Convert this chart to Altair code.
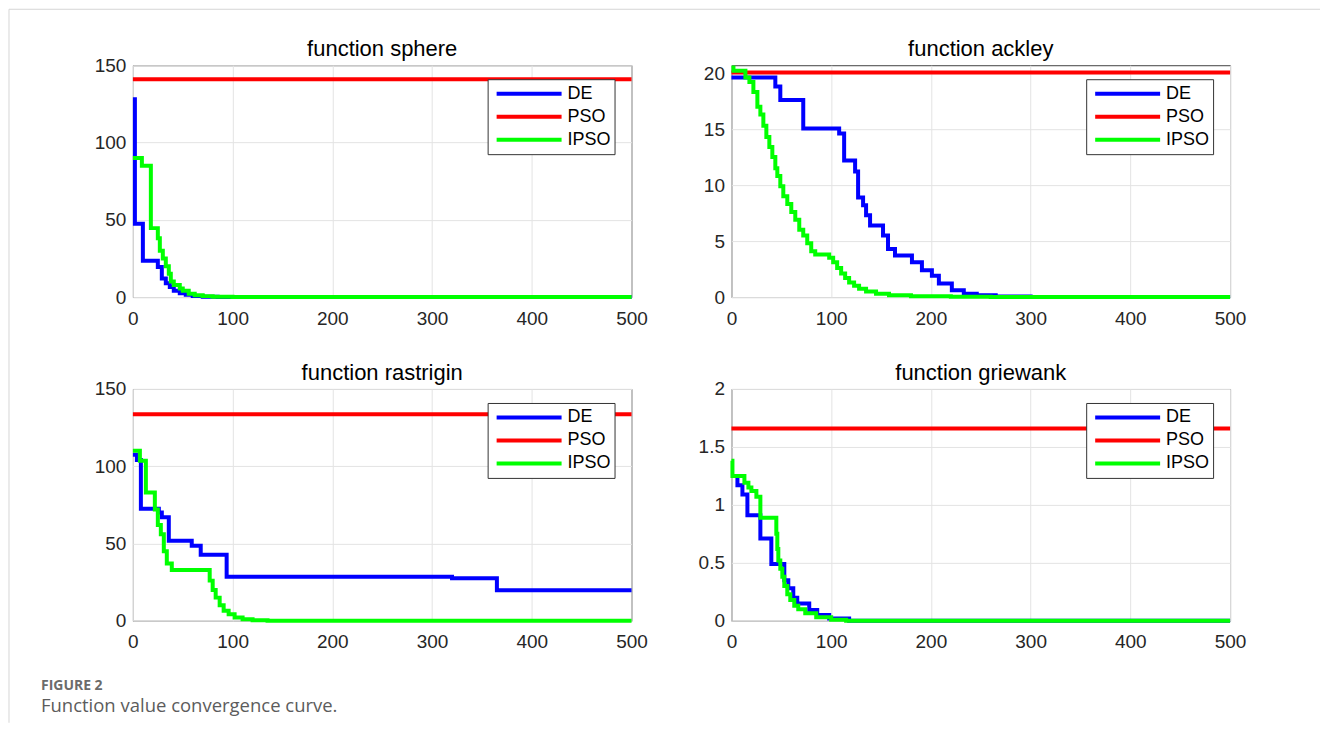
import altair as alt
import pandas as pd

SERIES = ["DE", "PSO", "IPSO"]
COLORS = ["#0000ff", "#ff0000", "#00ff00"]
X_TICKS = [0, 100, 200, 300, 400, 500]
X_MAX = 500

# ---- function sphere ----
sph_de_x = [0, 2, 10, 25, 29, 33, 37, 41, 47, 53, 60, 70, 85]
sph_de_y = [128, 47.5, 23.5, 19.5, 12, 9, 6.5, 4, 2.5, 1.5, 0.7, 0.25, 0]
sph_pso = 141
sph_ipso_x = [0, 9, 18, 25, 27, 30, 33, 36, 38, 41, 47, 50, 56, 62, 70, 80, 100]
sph_ipso_y = [90, 85, 44.6, 38, 30, 25, 20, 15, 10, 7.8, 5.5, 4, 2.2, 1.2, 0.6, 0.25, 0]

# ---- function ackley ----
ack_de_x = [0, 44, 49, 72, 108, 113, 124, 127, 132, 135, 139, 152, 157, 164, 181, 191, 201, 208, 221, 233, 246, 265, 300]
ack_de_y = [19.6, 18.8, 17.6, 15.05, 14.6, 12.2, 11.2, 8.9, 8.2, 7.3, 6.4, 5.5, 4.3, 3.7, 3.1, 2.4, 1.9, 1.2, 0.6, 0.3, 0.15, 0.06, 0]
ack_pso = 20.05
ack_ipso_x = [0, 2, 14, 18, 22, 26, 29, 32, 35, 38, 41, 44, 46, 49, 52, 56, 60, 64, 68, 72, 76, 80, 84, 98, 102, 106, 110, 114, 118, 123, 128, 135, 145, 158, 180, 220, 260]
ack_ipso_y = [20.5, 20.2, 19.6, 19.2, 18.3, 17.0, 16.3, 15.3, 14.3, 13.4, 12.5, 11.5, 10.8, 9.9, 9.0, 8.3, 7.6, 6.9, 6.0, 5.5, 4.8, 4.1, 3.8, 3.5, 3.1, 2.6, 2.1, 1.7, 1.3, 1.0, 0.75, 0.5, 0.3, 0.15, 0.07, 0.02, 0]

# ---- function rastrigin ----
ras_de_x = [0, 4, 8, 26, 29, 36, 59, 68, 94, 320, 365]
ras_de_y = [107.5, 104, 72.5, 70, 67, 51.8, 48.5, 42.8, 28.5, 27.6, 19.8]
ras_pso = 133.7
ras_ipso_x = [0, 7, 13, 22, 25, 28, 31, 34, 39, 77, 80, 83, 87, 91, 96, 102, 110, 120, 135, 150]
ras_ipso_y = [110, 103.5, 83, 72, 62, 56, 45, 37, 32.8, 26, 20, 15, 10, 6.5, 4.3, 2.2, 1.0, 0.4, 0.1, 0]

# ---- function griewank ----
gri_de_x = [0, 6, 11, 16, 29, 40, 53, 57, 62, 66, 78, 86, 98, 118]
gri_de_y = [1.25, 1.17, 1.09, 0.91, 0.71, 0.49, 0.35, 0.28, 0.2, 0.15, 0.094, 0.05, 0.02, 0]
gri_pso = 1.66
gri_ipso_x = [0, 1, 13, 17, 20, 25, 29, 45, 46, 47, 49, 51, 53, 56, 59, 63, 67, 74, 85, 100, 115]
gri_ipso_y = [1.38, 1.25, 1.19, 1.15, 1.12, 1.07, 0.89, 0.75, 0.62, 0.52, 0.45, 0.38, 0.3, 0.23, 0.18, 0.13, 0.1, 0.066, 0.03, 0.01, 0]

TITLES = ["function sphere", "function ackley", "function rastrigin", "function griewank"]
CAPTION_LABEL = "FIGURE 2"
CAPTION_TEXT = "Function value convergence curve."

FONT = "Liberation Sans"
W, H = 499, 232
one = pd.DataFrame({"k": [0]})


def frame(xs, ys, name):
    xs = list(xs) + [X_MAX]
    ys = list(ys) + [ys[-1]]
    return pd.DataFrame({"iter": xs, "value": ys, "series": name})


def panel(title, de, pso, ipso, ymax, yticks, extra=()):
    df = pd.concat([
        frame(de[0], de[1], "DE"),
        frame([0], [pso], "PSO"),
        frame(ipso[0], ipso[1], "IPSO"),
    ], ignore_index=True)
    lines = alt.Chart(df).mark_line(strokeWidth=4, interpolate="step-after").encode(
        x=alt.X("iter:Q", scale=alt.Scale(domain=[0, X_MAX], nice=False),
                axis=alt.Axis(values=X_TICKS, title=None, format=".6~g", labelFlush=False)),
        y=alt.Y("value:Q", scale=alt.Scale(domain=[0, ymax], nice=False),
                axis=alt.Axis(values=yticks, title=None, format=".6~g", labelFlush=False)),
        color=alt.Color("series:N", sort=SERIES,
                        scale=alt.Scale(domain=SERIES, range=COLORS),
                        legend=alt.Legend(title=None, orient="none", legendX=355, legendY=14,
                                          symbolType="stroke", symbolSize=4225,
                                          symbolStrokeWidth=4, clipHeight=23, rowPadding=0,
                                          labelFont=FONT, labelFontSize=18, labelColor="#000000",
                                          labelOffset=4, symbolOffset=4, padding=3,
                                          strokeColor="#333333", fillColor="#ffffff")),
    )
    ttl = alt.Chart(one).mark_text(text=title, align="center", baseline="middle", font=FONT,
                                   fontSize=22, color="#000000").encode(
        x=alt.value(W / 2), y=alt.value(-16))
    return alt.layer(lines, ttl, *extra).properties(width=W, height=H)


cap1 = alt.Chart(one).mark_text(text=CAPTION_LABEL, align="left", baseline="middle", font="Open Sans",
                                fontSize=14, fontWeight="bold", color="#6b6b6b").encode(
    x=alt.value(-92), y=alt.value(297))
cap2 = alt.Chart(one).mark_text(text=CAPTION_TEXT, align="left", baseline="middle",
                                font="Open Sans", fontSize=18.5, color="#5c5c5c").encode(
    x=alt.value(-92), y=alt.value(317))
top_rule = alt.Chart(one).mark_rule(color="#d6d6d6", strokeWidth=1).encode(
    x=alt.value(-124), x2=alt.value(1188), y=alt.value(-380))
left_rule = alt.Chart(one).mark_rule(color="#d6d6d6", strokeWidth=1).encode(
    x=alt.value(-124), y=alt.value(-380), y2=alt.value(334))

p1 = panel(TITLES[0], (sph_de_x, sph_de_y), sph_pso, (sph_ipso_x, sph_ipso_y), 150, [0, 50, 100, 150])
p2 = panel(TITLES[1], (ack_de_x, ack_de_y), ack_pso, (ack_ipso_x, ack_ipso_y), 20.7, [0, 5, 10, 15, 20])
p3 = panel(TITLES[2], (ras_de_x, ras_de_y), ras_pso, (ras_ipso_x, ras_ipso_y), 150, [0, 50, 100, 150],
           extra=(cap1, cap2, top_rule, left_rule))
p4 = panel(TITLES[3], (gri_de_x, gri_de_y), gri_pso, (gri_ipso_x, gri_ipso_y), 2, [0, 0.5, 1, 1.5, 2])

chart = alt.concat(
    p1, p2, p3, p4, columns=2, spacing={"row": 92, "column": 100}, bounds="flush"
).resolve_scale(color="independent").properties(
    padding=0
).configure_view(
    stroke="#404040", strokeWidth=1
).configure_axis(
    labelFont=FONT, labelFontSize=19, labelColor="#262626", gridColor="#e3e3e3",
    domain=False, ticks=False
).configure_axisX(
    labelPadding=12
).configure_axisY(
    labelPadding=7
)

chart.save("out.html", embed_options={"renderer": "svg", "actions": False})
